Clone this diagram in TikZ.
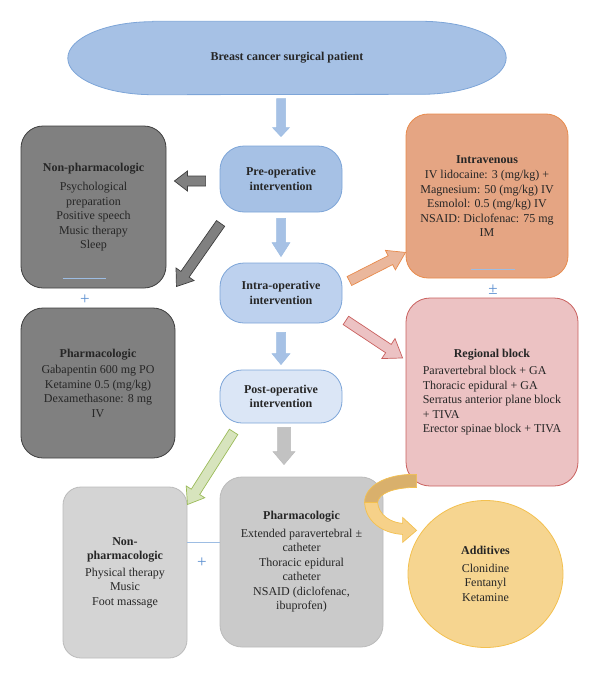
\documentclass[tikz,border=0pt]{standalone}
\usepackage{fontspec}
\setmainfont{Liberation Serif}
\usetikzlibrary{calc}
\usetikzlibrary{shapes.geometric}
\usetikzlibrary{backgrounds}

\definecolor{txt}{HTML}{262626}
\definecolor{bluefill}{HTML}{A6C1E5}
\definecolor{blueline}{HTML}{7DA5D8}
\definecolor{intrafill}{HTML}{BDD1EE}
\definecolor{postfill}{HTML}{DBE6F6}
\definecolor{darkfill}{HTML}{808080}
\definecolor{darkline}{HTML}{3F3F3F}
\definecolor{lightfill}{HTML}{D4D4D4}
\definecolor{midfill}{HTML}{CACACA}
\definecolor{greyline}{HTML}{BBBBBB}
\definecolor{ivfill}{HTML}{E5A583}
\definecolor{ivline}{HTML}{E88B4C}
\definecolor{regfill}{HTML}{ECC2C3}
\definecolor{regline}{HTML}{C9605E}
\definecolor{addfill}{HTML}{F6D590}
\definecolor{addline}{HTML}{F3C04F}
\definecolor{addtan}{HTML}{D9B06C}
\definecolor{greenfill}{HTML}{D7E4BD}
\definecolor{greenline}{HTML}{9BBB59}
\definecolor{plusblue}{HTML}{5B8FD0}
\definecolor{thinblue}{HTML}{9DBDE3}

% block arrow: [style]{from}{to}{shaft half width}{head half width}{head length}
\newcommand{\blockarrow}[6][]{%
  \path[#1] let \p1=(#2), \p2=(#3),
    \n1={atan2(\y2-\y1,\x2-\x1)}, \n2={veclen(\x2-\x1,\y2-\y1)} in
    [shift={(\p1)}, rotate=\n1]
    (0pt,-#4) -- ({\n2*1pt-#6},-#4) -- ({\n2*1pt-#6},-#5) -- ({\n2*1pt},0pt)
    -- ({\n2*1pt-#6},#5) -- ({\n2*1pt-#6},#4) -- (0pt,#4) -- cycle;}

\begin{document}
\begin{tikzpicture}[x=1pt, y=-1pt,
    box/.style={rectangle, rounded corners=22pt, align=center, text=txt,
      line width=0.8pt, font=\fontsize{12}{14.5}\selectfont},
    phase/.style={box, rounded corners=24pt, minimum width=122pt,
      draw=blueline, font=\fontsize{12}{14.5}\selectfont\bfseries},
    darkbox/.style={box, fill=darkfill, draw=darkline},
    bluearr/.style={fill=bluefill, draw=thinblue, line width=0.5pt},
    darkarr/.style={fill=darkfill, draw=darkline, line width=0.7pt},
    greyarr/.style={fill=greyline!90!white, draw=greyline, line width=0.5pt},
    plus/.style={text=plusblue, font=\fontsize{17}{17}\selectfont, inner sep=0pt},
    rule/.style={draw=thinblue, line width=0.8pt}]

    \useasboundingbox (0,0) rectangle (600,680);

    \node[font=\fontsize{12}{14.5}\selectfont\bfseries, text=txt,
      minimum width=438pt, minimum height=73pt] (top) at (287,58)
      {Breast cancer surgical patient};
    \begin{scope}[on background layer]
        \draw[fill=bluefill, draw=blueline, line width=0.8pt]
          ([xshift=85pt]top.north west) -- ([xshift=-85pt]top.north east)
          arc[start angle=-90, end angle=90, x radius=85, y radius=36.5]
          -- ([xshift=85pt]top.south west)
          arc[start angle=90, end angle=270, x radius=85, y radius=36.5] -- cycle;
    \end{scope}

    \node[phase, fill=bluefill, minimum height=66pt] (preop) at (281,179)
      {Pre-operative\\ intervention};
    \node[phase, fill=intrafill, minimum height=60pt] (intraop) at (281,293)
      {Intra-operative\\ intervention};
    \node[phase, fill=postfill, minimum height=53pt, rounded corners=22pt] (postop) at (281,396.5)
      {Post-operative\\ intervention};

    \node[darkbox, minimum width=145pt, minimum height=162pt] (nonpharm) at (93.5,207)
      {\textbf{Non-pharmacologic}\\[5pt] Psychological\\ preparation\\ Positive speech\\
       Music therapy\\ Sleep};
    \node[darkbox, minimum width=154pt, minimum height=150pt] (pharm) at (98,383)
      {\textbf{Pharmacologic}\\[2pt] Gabapentin 600 mg PO\\ Ketamine 0.5 (mg/kg)\\
       Dexamethasone: 8 mg\\ IV};

    \node[box, fill=ivfill, draw=ivline, minimum width=162pt, minimum height=164pt] (iv) at (487,196)
      {\textbf{Intravenous}\\[1pt] IV lidocaine: 3 (mg/kg) +\\ Magnesium: 50 (mg/kg) IV\\
       Esmolol: 0.5 (mg/kg) IV\\ NSAID: Diclofenac: 75 mg\\ IM};
    \node[box, fill=regfill, draw=regline, minimum width=172pt, minimum height=188pt,
      rounded corners=24pt] (regional) at (492,392)
      {\begin{tabular}{@{}l@{}}
       \multicolumn{1}{@{}c@{}}{\textbf{Regional block}}\\[3pt]
       Paravertebral block + GA\\ Thoracic epidural + GA\\
       Serratus anterior plane block\\ + TIVA\\ Erector spinae block + TIVA
       \end{tabular}};

    \node[box, fill=lightfill, draw=greyline, minimum width=124pt, minimum height=171pt,
      rounded corners=18pt] (nonpharmpost) at (125,572.5)
      {\textbf{Non-}\\ \textbf{pharmacologic}\\[2pt] Physical therapy\\ Music\\ Foot massage};
    \node[box, fill=midfill, draw=greyline, minimum width=163pt, minimum height=170pt] (pharmpost) at (301.5,562)
      {\textbf{Pharmacologic}\\[3pt] Extended paravertebral ±\\ catheter\\ Thoracic epidural\\
       catheter\\ NSAID (diclofenac,\\ ibuprofen)};

    \node[ellipse, fill=addfill, draw=addline, line width=0.8pt, text=txt, align=center,
      font=\fontsize{12}{14.5}\selectfont, minimum width=155pt, minimum height=147pt]
      (additives) at (485.5,574)
      {\textbf{Additives}\\[3pt] Clonidine\\ Fentanyl\\ Ketamine};

    \draw[rule] ([shift={(42pt,10pt)}]nonpharm.south west) -- ++(43pt,0pt);
    \draw[rule] ([shift={(65pt,9pt)}]iv.south west) -- ++(44pt,0pt);
    \draw[rule] ([yshift=30.5pt]nonpharmpost.east) -- ([yshift=30.5pt]nonpharmpost.east -| pharmpost.west);

    \node[plus] (plusa) at (85,300) {+};
    \node[plus] (plusb) at (493,290) {±};
    \node[plus] (plusc) at (202,563) {+};

    \blockarrow[bluearr]{$(preop.north |- top.south)+(0,4)$}{$(preop.north)+(0,-9)$}{4.5pt}{8.5pt}{9pt}
    \blockarrow[bluearr]{$(preop.south)+(0,6)$}{$(intraop.north)+(0,-6)$}{4.5pt}{9pt}{14pt}
    \blockarrow[bluearr]{$(intraop.south)+(0,9)$}{$(postop.north)+(0,-5)$}{4.5pt}{9pt}{11pt}
    \blockarrow[greyarr]{$(postop.south)+(3,4)$}{$(postop.south |- pharmpost.north)+(3,-12)$}{6.5pt}{11pt}{13pt}

    \blockarrow[darkarr]{$(preop.west)+(-14,2)$}{$(nonpharm.east |- preop.west)+(8,2)$}{5pt}{10pt}{13pt}
    \blockarrow[darkarr]{$(preop.south west)+(1,11)$}{$(pharm.north east)+(1,-21)$}{5pt}{11pt}{15pt}

    \blockarrow[fill=ivfill!80!white, draw=ivline, line width=0.7pt]{$(intraop.east)+(7,-12)$}{$(iv.south west)+(0,-26)$}{5pt}{11pt}{17pt}
    \blockarrow[fill=regfill, draw=regline, line width=0.7pt]{$(intraop.south east)+(3.5,-3)$}{$(regional.west)+(-3,-34)$}{5pt}{12pt}{17pt}
    \blockarrow[fill=greenfill, draw=greenline, line width=0.7pt]{$(postop.south west)+(14,8.5)$}{$(nonpharmpost.north east)+(0,18)$}{5pt}{11pt}{15pt}

    \begin{scope}[shift={(regional.south west)}, line width=0.7pt]
        \filldraw[fill=addfill!95!orange, draw=addline] (-41,16) .. controls (-40,36) and (-22,47) .. (-3,48)
          -- (-3,56) -- (11,44) -- (-3,31) -- (-3,37) .. controls (-16,36) and (-27,28) .. (-28,16) -- cycle;
        \filldraw[fill=addtan, draw=addline] (11,-12) .. controls (-20,-13) and (-41,0) .. (-41,16)
          -- (-28,16) .. controls (-27,7) and (-12,1) .. (11,1) -- cycle;
    \end{scope}
\end{tikzpicture}
\end{document}
